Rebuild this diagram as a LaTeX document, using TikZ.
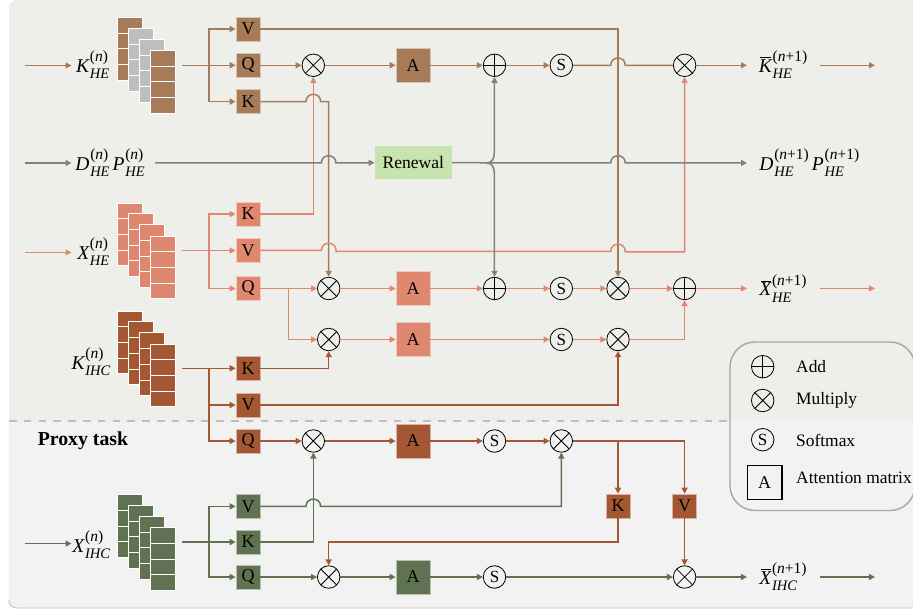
\documentclass[tikz,border=0pt]{standalone}
\usepackage{fontspec}
\setmainfont{Liberation Serif}
\usetikzlibrary{arrows.meta}
\definecolor{cbrown}{HTML}{A87B58}
\definecolor{csalm}{HTML}{E0876F}
\definecolor{cdark}{HTML}{A35733}
\definecolor{cgreen}{HTML}{5F7251}
\definecolor{cgrey}{HTML}{808080}
\definecolor{clay}{HTML}{BEBEBE}
\definecolor{cren}{HTML}{C7E3AE}
\definecolor{bgup}{HTML}{EEEEEA}
\definecolor{bglo}{HTML}{F2F2F2}
\tikzset{
  x=1pt,y=-1pt,
  conn/.style={line width=1.5pt,draw=#1,-{Triangle[length=6pt,width=6pt,fill=#1]},line join=miter},
  wire/.style={line width=1.5pt,draw=#1,line join=miter},
  sq/.style={fill=#1,draw=white!55!#1,line width=.6pt,minimum size=24pt,inner sep=0pt,font=\fontsize{18}{18}\selectfont},
  att/.style={fill=#1,draw=white!55!#1,line width=.6pt,minimum size=34pt,inner sep=0pt,font=\fontsize{18}{18}\selectfont},
  circ/.style={circle,draw=black,line width=.8pt,minimum size=22.5pt,inner sep=0pt},
  opmul/.style={circ,path picture={\draw[line width=.8pt] (path picture bounding box.north west)--(path picture bounding box.south east) (path picture bounding box.north east)--(path picture bounding box.south west);}},
  opadd/.style={circ,path picture={\draw[line width=.8pt] (path picture bounding box.north)--(path picture bounding box.south) (path picture bounding box.east)--(path picture bounding box.west);}},
  opsof/.style={circ,font=\fontsize{17}{18}\selectfont},
  mlab/.style={inner sep=0pt},
  ltxt/.style={anchor=west,inner sep=0pt,font=\fontsize{17.4}{20}\selectfont},
}
% semicircular hop over a vertical line at x=#1, on a row at y=#2
\newcommand{\hopat}[2]{-- (#1-7.3,#2) .. controls (#1-7.3,#2-9.7) and (#1+7.3,#2-9.7) .. (#1+7.3,#2)}
% one layer of a stack: x, top y, colour
\newcommand{\layer}[3]{%
  \foreach \r in {0,1,2,3}{\filldraw[fill=#3,draw=white,line width=.8pt] (#1,#2+\r*15.7) rectangle (#1+25,#2+\r*15.7+15.7);}}
\newcommand{\stackof}[5]{%
  \layer{117}{#1}{#2}\layer{128}{#1+10.8}{#3}\layer{139.3}{#1+21.8}{#4}\layer{150.6}{#1+33}{#5}}
% symbol with subscript (#2) and superscript (#3)
\newcommand{\mainsym}[1]{{\fontsize{19.5}{20}\selectfont\itshape #1}}
\newcommand{\lab}[3]{\mbox{\mainsym{#1}\kern.8pt%
  \setbox0=\hbox{\raise10.5pt\hbox{\fontsize{15.5}{16}\selectfont #3}}%
  \setbox2=\hbox{\lower6.5pt\hbox{\fontsize{14.5}{15}\selectfont\itshape #2}}%
  \ifdim\wd0>\wd2 \rlap{\box2}\box0 \else \rlap{\box0}\box2 \fi}}
\newcommand{\obar}[1]{\rlap{\kern1.5pt\rule[14.3pt]{10.5pt}{.7pt}}#1}
\newcommand{\nn}{(\textit{n})}
\newcommand{\np}{(\textit{n}+1)}
\begin{document}
\begin{tikzpicture}
\clip (0,0) rectangle (913,612);
\fill[white] (0,0) rectangle (913,612);
% panels
\fill[bgup] (913,0) -- (17,0) .. controls (12,0) and (9,3) .. (9,8) -- (9,421) -- (913,421) -- cycle;
\fill[bglo] (913,421) -- (9,421) -- (9,600) .. controls (9,605) and (12,608) .. (17,608) -- (913,608) -- cycle;
\draw[clay,line width=.8pt] (9,600) .. controls (9,605) and (12,608) .. (17,608) -- (913,608);
\draw[clay,line width=2pt,dash pattern=on 7.5pt off 7.3pt] (9,420.5) -- (730,420.5);
% legend frame
\draw[color=black!35,line width=1.4pt,rounded corners=25pt] (730,342) rectangle (915,510.5);
% stacks
\stackof{17.5}{cbrown}{clay}{clay}{cbrown}
\stackof{203}{csalm}{csalm}{csalm}{csalm}
\stackof{311}{cdark}{cdark}{cdark}{cdark}
\stackof{494.5}{cgreen}{cgreen}{cgreen}{cgreen}
% boxes
\node[sq=cbrown] (hv) at (248,29) {V};
\node[sq=cbrown] (hq) at (248,65.3) {Q};
\node[sq=cbrown] (hk) at (248,101.6) {K};
\node[sq=csalm] (xk) at (248,214) {K};
\node[sq=csalm] (xv) at (248,250.5) {V};
\node[sq=csalm] (xq) at (248,288.5) {Q};
\node[sq=cdark] (ik) at (248,368.3) {K};
\node[sq=cdark] (iv) at (248,405) {V};
\node[sq=cdark] (iq) at (248,441) {Q};
\node[sq=cgreen] (gv) at (248,506.4) {V};
\node[sq=cgreen] (gk) at (248,542) {K};
\node[sq=cgreen] (gq) at (248,577) {Q};
\node[sq=cdark] (bk) at (618,506) {K};
\node[sq=cdark] (bv) at (684.6,506) {V};
\node[att=cbrown] (a1) at (413,65.3) {A};
\node[att=csalm] (a2) at (413,288.5) {A};
\node[att=csalm] (a3) at (413,339.5) {A};
\node[att=cdark] (a4) at (413,441) {A};
\node[att=cgreen] (a5) at (413,577) {A};
\node[fill=cren,minimum width=77pt,minimum height=33pt,inner sep=0pt,font=\fontsize{17.6}{18}\selectfont] (rn) at (413.3,162.7) {Renewal};
% operators, row 1
\node[opmul] (m1) at (313.3,65.3) {};
\node[opadd] (p1) at (494.5,65.3) {};
\node[opsof] (s1) at (561.3,65.3) {S};
\node[opmul] (m1b) at (684.6,65.3) {};
% row 2
\node[opmul] (m2) at (328.7,288.5) {};
\node[opadd] (p2) at (494.5,288.5) {};
\node[opsof] (s2) at (561.3,288.5) {S};
\node[opmul] (m2b) at (618,288.5) {};
\node[opadd] (p2b) at (684.6,288.5) {};
% row 3
\node[opmul] (m3) at (328.7,339.5) {};
\node[opsof] (s3) at (561.3,339.5) {S};
\node[opmul] (m3b) at (618,339.5) {};
% row 4
\node[opmul] (m4) at (313.3,441) {};
\node[opsof] (s4) at (494.5,441) {S};
\node[opmul] (m4b) at (561.3,441) {};
% row 5
\node[opmul] (m5) at (328.7,577) {};
\node[opsof] (s5) at (494.5,577) {S};
\node[opmul] (m5b) at (684.6,577) {};
% labels
\node[mlab] (lk) at (92.7,65) {\lab{K}{HE}{\nn}};
\node[mlab] (ld) at (110,163) {\lab{D}{HE}{\nn}\kern3pt\lab{P}{HE}{\nn}};
\node[mlab] (lx) at (93.3,252) {\lab{X}{HE}{\nn}};
\node[mlab] (li) at (91,361.7) {\lab{K}{IHC}{\nn}};
\node[mlab] (lg) at (91.3,545) {\lab{X}{IHC}{\nn}};
\node[mlab] (ok) at (783,65) {\lab{\obar{K}}{HE}{\np}};
\node[mlab] (od) at (809.3,163) {\lab{D}{HE}{\np}\kern3pt\lab{P}{HE}{\np}};
\node[mlab] (ox) at (783,288.5) {\lab{\obar{X}}{HE}{\np}};
\node[mlab] (og) at (783,577) {\lab{\obar{X}}{IHC}{\np}};
\node[font=\fontsize{19.8}{22}\selectfont\bfseries,inner sep=0pt] (proxy) at (83,441) {Proxy task};
% free ends
\coordinate (in1) at (25,65.5);   \coordinate (in1e) at (71.5,65.5);
\coordinate (in2) at (25,163);    \coordinate (in2e) at (71.5,163);
\coordinate (in3) at (25,252.5);  \coordinate (in3e) at (71.5,252.5);
\coordinate (in5) at (25,543.5);  \coordinate (in5e) at (71.5,543.5);
\coordinate (st1) at (182,65.3);
\coordinate (st2) at (182,250.5);
\coordinate (st3) at (182,368.3);
\coordinate (st5) at (182,542);
\coordinate (dp) at (155,163);
\coordinate (out1) at (747,65.3);  \coordinate (out1b) at (820,65.3);  \coordinate (out1e) at (875,65.3);
\coordinate (out2) at (747,163);
\coordinate (out3) at (747,288.5); \coordinate (out3b) at (820,288.5); \coordinate (out3e) at (875,288.5);
\coordinate (out5) at (747,577);   \coordinate (out5b) at (820,577);   \coordinate (out5e) at (875,577);
% inputs
\draw[conn=cbrown] (in1) -- (in1e);
\draw[conn=cgrey] (in2) -- (in2e);
\draw[conn=csalm] (in3) -- (in3e);
\draw[conn=cgreen] (in5) -- (in5e);
% brown branch
\draw[conn=cbrown] (st1) -- (hq.west);
\draw[conn=cbrown] (209,65.3) -- (209,29) -- (hv.west);
\draw[conn=cbrown] (209,65.3) -- (209,101.6) -- (hk.west);
\draw[conn=cbrown] (hq.east) -- (m1.west);
\draw[conn=cbrown] (m1.east) -- (a1.west);
\draw[conn=cbrown] (a1.east) -- (p1.west);
\draw[conn=cbrown] (p1.east) -- (s1.west);
\draw[wire=cbrown] (s1.east) \hopat{618}{65.3} -- (m1b.west);
\draw[conn=cbrown] (m1b.east) -- (out1);
\draw[conn=cbrown] (out1b) -- (out1e);
\draw[conn=cbrown] (hv.east) -- (618,29) -- (m2b.north);
\draw[conn=cbrown] (hk.east) \hopat{313.3}{101.6} -- (328.7,101.6) -- (m2.north);
% salmon branch
\draw[conn=csalm] (st2) -- (xv.west);
\draw[conn=csalm] (209,250.5) -- (209,214) -- (xk.west);
\draw[conn=csalm] (209,250.5) -- (209,288.5) -- (xq.west);
\draw[conn=csalm] (xk.east) -- (313.3,214) -- (m1.south);
\draw[conn=csalm] (xv.east) \hopat{328.7}{250.5} -- (336,251.5) \hopat{618}{251.5} -- (625.3,252) -- (684.6,252) -- (m1b.south);
\draw[conn=csalm] (xq.east) -- (m2.west);
\draw[conn=csalm] (288.7,288.5) -- (288.7,339.5) -- (m3.west);
\draw[conn=csalm] (m2.east) -- (a2.west);
\draw[conn=csalm] (a2.east) -- (p2.west);
\draw[conn=csalm] (p2.east) -- (s2.west);
\draw[conn=csalm] (s2.east) -- (m2b.west);
\draw[conn=csalm] (m2b.east) -- (p2b.west);
\draw[conn=csalm] (p2b.east) -- (out3);
\draw[conn=csalm] (out3b) -- (out3e);
\draw[conn=csalm] (m3.east) -- (a3.west);
\draw[conn=csalm] (a3.east) -- (s3.west);
\draw[conn=csalm] (s3.east) -- (m3b.west);
\draw[conn=csalm] (m3b.east) -- (684.6,339.5) -- (p2b.south);
% dark branch
\draw[conn=cdark] (st3) -- (ik.west);
\draw[conn=cdark] (209,368.3) -- (209,405) -- (iv.west);
\draw[conn=cdark] (209,405) -- (209,441) -- (iq.west);
\draw[conn=cdark] (ik.east) -- (328.7,368.3) -- (m3.south);
\draw[conn=cdark] (iv.east) -- (618,405) -- (m3b.south);
\draw[conn=cdark] (iq.east) -- (m4.west);
\draw[conn=cdark] (m4.east) -- (a4.west);
\draw[conn=cdark] (a4.east) -- (s4.west);
\draw[conn=cdark] (s4.east) -- (m4b.west);
\draw[conn=cdark] (m4b.east) -- (684.6,441) -- (bv.north);
\draw[conn=cdark] (618,441) -- (bk.north);
\draw[conn=cdark] (bv.south) -- (m5b.north);
\draw[conn=cdark] (bk.south) -- (618,542) -- (328.7,542) -- (m5.north);
% green branch
\draw[conn=cgreen] (st5) -- (gk.west);
\draw[conn=cgreen] (209,542) -- (209,506.4) -- (gv.west);
\draw[conn=cgreen] (209,542) -- (209,577) -- (gq.west);
\draw[conn=cgreen] (gv.east) \hopat{313.3}{506.4} -- (561.3,506.4) -- (m4b.south);
\draw[conn=cgreen] (gk.east) -- (313.3,542) -- (m4.south);
\draw[conn=cgreen] (gq.east) -- (m5.west);
\draw[conn=cgreen] (m5.east) -- (a5.west);
\draw[conn=cgreen] (a5.east) -- (s5.west);
\draw[conn=cgreen] (s5.east) -- (m5b.west);
\draw[conn=cgreen] (m5b.east) -- (out5);
\draw[conn=cgreen] (out5b) -- (out5e);
% grey lines
\draw[conn=cgrey] (dp) \hopat{328.7}{163} -- (rn.west);
\draw[conn=cgrey] (rn.east) \hopat{618}{163} -- (out2);
\draw[conn=cgrey] (486,163) .. controls (491.5,163) and (494.3,160) .. (494.3,152) -- (p1.south);
\draw[conn=cgrey] (486,163) .. controls (491.5,163) and (494.3,166) .. (494.3,174) -- (p2.north);
% legend content
\node[opadd] (la) at (762.7,366.7) {};
\node[opmul] (lm) at (762.7,400.5) {};
\node[opsof] (ls) at (762.7,439.7) {S};
\node[draw=black,line width=1.1pt,minimum size=34.5pt,inner sep=0pt,font=\fontsize{18}{18}\selectfont] (lA) at (764.7,482.6) {A};
\node[ltxt] (t1) at (796,367) {Add};
\node[ltxt] (t2) at (796,400.5) {Multiply};
\node[ltxt] (t3) at (796,440) {Softmax};
\node[ltxt] (t4) at (796,478) {Attention matrix};
\end{tikzpicture}
\end{document}
